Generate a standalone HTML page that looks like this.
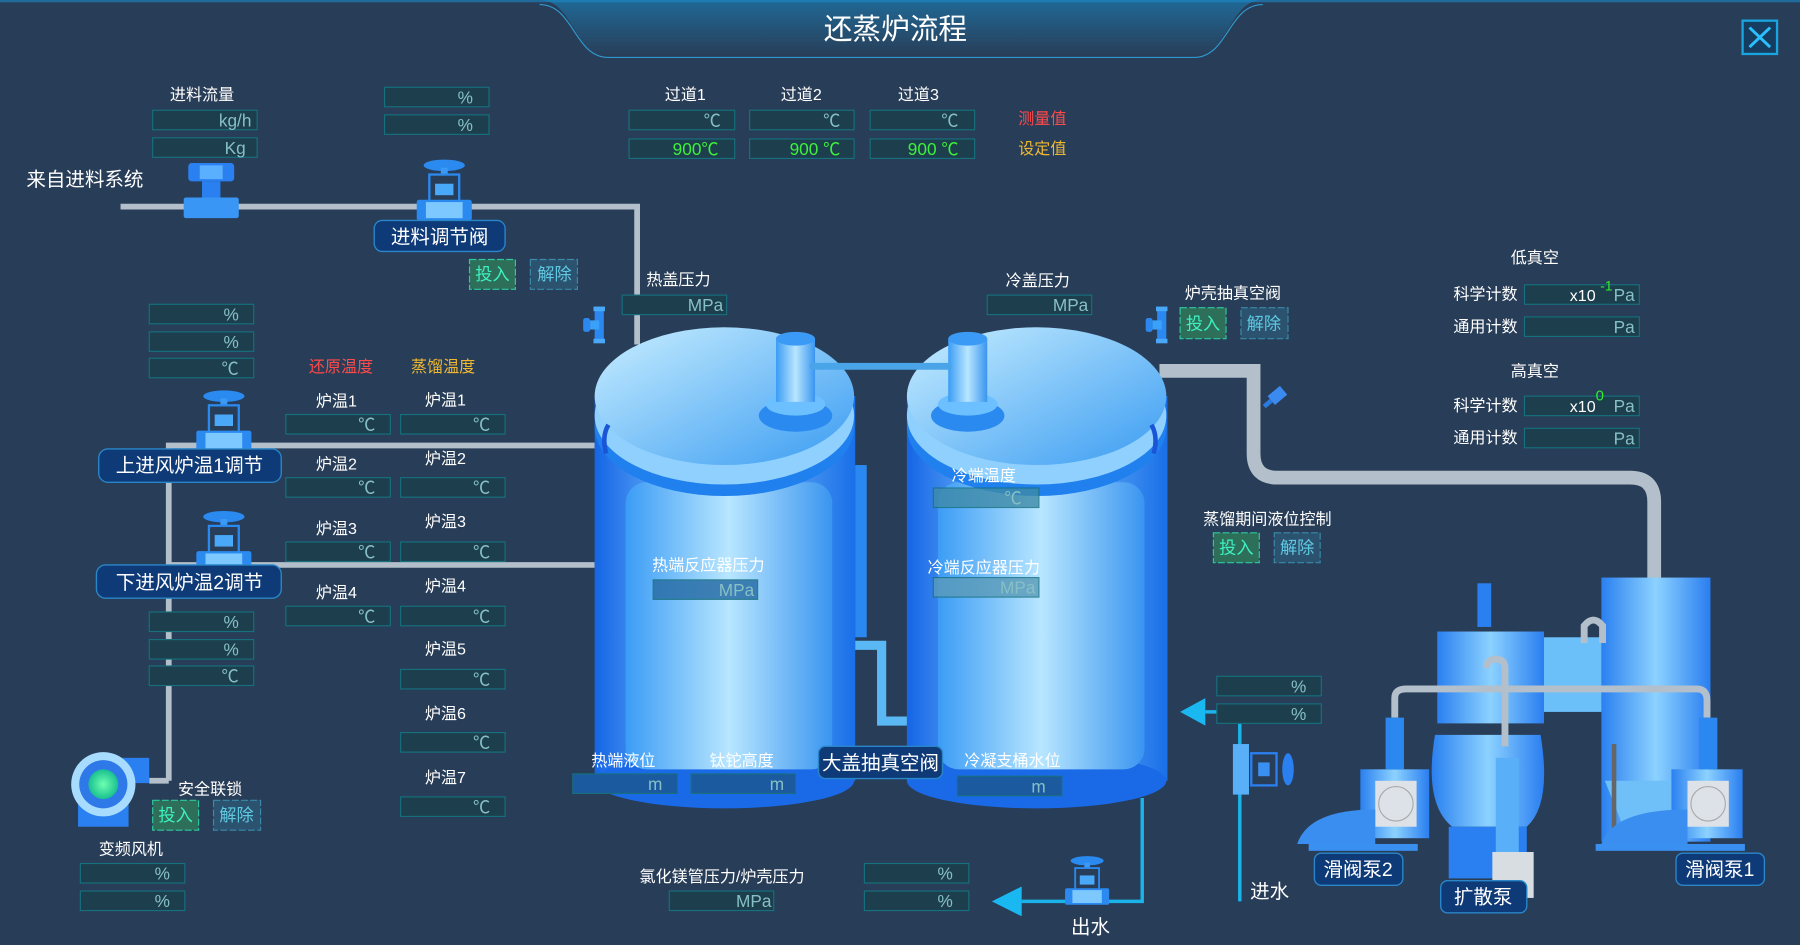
<!DOCTYPE html>
<html><head><meta charset="utf-8"><style>
html,body{margin:0;padding:0;background:#283d57;}
svg{display:block}
text{font-family:"Liberation Sans","Noto Sans CJK SC",sans-serif;}
.l{fill:#fff;font-size:14px;text-anchor:middle}
.u{fill:#86c0c4;font-size:15px;text-anchor:end}
.bx{fill:#1d3f4d;stroke:#16707e;stroke-width:1}
.g{fill:#2e6f5a;stroke:#2fc9a0;stroke-dasharray:6 2}
.r{fill:#2b5370;stroke:#3a8aa8;stroke-dasharray:6 2}
.gt{fill:#3ef0c0;font-size:15px;text-anchor:middle}
.rt{fill:#5fc8e0;font-size:15px;text-anchor:middle}
.tag{fill:#0e3a78;stroke:#2a86c8;stroke-width:1.2}
.tt{fill:#fff;font-size:17px;text-anchor:middle}
.pipe{stroke:#b3bfca;fill:none}
</style></head><body>
<svg width="1800" height="945" viewBox="0 0 1568 823" preserveAspectRatio="none">
<defs>
<linearGradient id="tk" x1="0" x2="1"><stop offset="0" stop-color="#1565e6"/><stop offset=".45" stop-color="#8fd4ff"/><stop offset="1" stop-color="#1a6fe8"/></linearGradient>
<linearGradient id="tk2" x1="0" x2="1"><stop offset="0" stop-color="#3b9cf5"/><stop offset=".5" stop-color="#b8e6ff"/><stop offset="1" stop-color="#3a95f0"/></linearGradient>
<linearGradient id="lid" x1="0" y1="0" x2="1" y2="1"><stop offset="0" stop-color="#c8eeff"/><stop offset="1" stop-color="#3a9cf2"/></linearGradient>
<linearGradient id="hd" x1="0" y1="0" x2="0" y2="1"><stop offset="0" stop-color="#1a86c0"/><stop offset="1" stop-color="#283d57"/></linearGradient>
<linearGradient id="mc" x1="0" x2="1"><stop offset="0" stop-color="#2a80f0"/><stop offset=".5" stop-color="#8cd2ff"/><stop offset="1" stop-color="#2a7ef0"/></linearGradient>
<radialGradient id="fan"><stop offset="0" stop-color="#6fffb0"/><stop offset="1" stop-color="#18c090"/></radialGradient>
<g id="valve"><ellipse cx="0" cy="-38" rx="18" ry="5" fill="#2a8af0"/><rect x="-3" y="-36" width="6" height="6" fill="#3a9af5"/><rect x="-13" y="-30" width="26" height="24" fill="none" stroke="#2a8af0" stroke-width="2"/><rect x="-8" y="-22" width="16" height="10" fill="#4aa8f8"/><rect x="-24" y="-8" width="48" height="18" rx="2" fill="#2a8af0"/><rect x="-16" y="-6" width="32" height="14" fill="#7cc8ff"/></g>
<g id="sv"><rect x="-4" y="-14" width="8" height="28" fill="#2a88f0"/><rect x="-8" y="-4" width="8" height="8" fill="#3aa0f8"/><rect x="-14" y="-6" width="6" height="12" rx="2" fill="#2a88f0"/><rect x="-5" y="-16" width="10" height="4" fill="#4aa8f8"/><rect x="-5" y="12" width="10" height="4" fill="#4aa8f8"/></g>
</defs>
<rect width="1568" height="823" fill="#283d57"/>
<!-- header -->
<path d="M470 0 C500 0 500 50 530 50 L1040 50 C1070 50 1070 0 1100 0 Z" fill="url(#hd)" opacity=".6"/>
<path d="M470 4 C500 4 500 50 530 50 L1040 50 C1070 50 1070 4 1100 4" fill="none" stroke="#2f9ad0" stroke-width="1"/>
<rect x="0" y="0" width="1568" height="2" fill="#1a8ac8" opacity=".6"/>
<text x="780" y="34" fill="#fff" font-size="25" text-anchor="middle">还蒸炉流程</text>
<rect x="1518" y="18" width="30" height="29" fill="#163d60" stroke="#1aa4e0" stroke-width="2"/>
<path d="M1524 24 L1542 41 M1542 24 L1524 41" stroke="#2ac0ff" stroke-width="2.5"/>

<!-- pipes -->
<path class="pipe" stroke-width="5" d="M105 180 L555 180 L555 300"/>
<path class="pipe" stroke-width="5" d="M147 680 L147 388 L518 388 M147 492 L518 492 M130 680 L147 680"/>
<path class="pipe" stroke-width="12" d="M1010 323 L1092 323 L1092 395 Q1092 416 1113 416 L1420 416 Q1441 416 1441 437 L1441 505"/>

<!-- feed devices -->
<g transform="translate(184,170)"><rect x="-20" y="-28" width="40" height="16" rx="3" fill="#2a80f0"/><rect x="-10" y="-26" width="20" height="12" fill="#5ab0ff"/><rect x="-8" y="-12" width="16" height="14" fill="#2a80f0"/><rect x="-24" y="2" width="48" height="18" rx="2" fill="#3a96f5"/></g>
<use href="#valve" transform="translate(387,182)"/>
<use href="#valve" transform="translate(195,383)"/>
<use href="#valve" transform="translate(195,488)"/>
<use href="#sv" transform="translate(522,283)"/>
<use href="#sv" transform="translate(1012,283)"/>

<!-- tanks -->
<g>
<rect x="518" y="345" width="227" height="335" fill="url(#tk)"/>
<ellipse cx="631" cy="680" rx="113" ry="24" fill="#1a6ae8"/>
<rect x="545" y="420" width="180" height="250" rx="18" fill="url(#tk2)"/>
<rect x="745" y="405" width="10" height="150" fill="#2a88f0"/>
<ellipse cx="631" cy="372" rx="113" ry="60" fill="#1f80ee"/>
<ellipse cx="631" cy="362" rx="113" ry="60" fill="#8fd0ff"/>
<ellipse cx="631" cy="345" rx="113" ry="60" fill="url(#lid)"/>
<ellipse cx="693" cy="362" rx="32" ry="14" fill="#2a8af0"/>
<ellipse cx="693" cy="352" rx="26" ry="10" fill="#6cc0ff"/>
<rect x="676" y="295" width="34" height="55" fill="url(#tk2)"/>
<ellipse cx="693" cy="295" rx="17" ry="6" fill="#3a9af5"/>
<path d="M530 370 Q524 380 528 395" stroke="#1a55d8" stroke-width="4" fill="none"/>
</g>
<g>
<rect x="790" y="345" width="227" height="335" fill="url(#tk)"/>
<ellipse cx="903" cy="680" rx="113" ry="24" fill="#1a6ae8"/>
<rect x="817" y="420" width="180" height="250" rx="18" fill="url(#tk2)"/>
<ellipse cx="903" cy="372" rx="113" ry="60" fill="#1f80ee"/>
<ellipse cx="903" cy="362" rx="113" ry="60" fill="#8fd0ff"/>
<ellipse cx="903" cy="345" rx="113" ry="60" fill="url(#lid)"/>
<ellipse cx="843" cy="362" rx="32" ry="14" fill="#2a8af0"/>
<ellipse cx="843" cy="352" rx="26" ry="10" fill="#6cc0ff"/>
<rect x="826" y="295" width="34" height="55" fill="url(#tk2)"/>
<ellipse cx="843" cy="295" rx="17" ry="6" fill="#3a9af5"/>
<path d="M1003 370 Q1009 380 1005 395" stroke="#1a55d8" stroke-width="4" fill="none"/>
</g>
<path d="M708 319 L826 319" stroke="#4aa4e8" stroke-width="6" stroke-linecap="round"/>
<path d="M745 562 L768 562 L768 628 L790 628" stroke="#5ab8f5" stroke-width="8" fill="none"/>

<!-- machinery -->
<rect x="1395" y="503" width="95" height="230" fill="url(#mc)"/>
<path d="M1398 680 L1490 680 L1460 735 L1420 735 Z" fill="#6fbff8"/>
<rect x="1252" y="550" width="93" height="80" fill="url(#mc)"/>
<rect x="1345" y="555" width="50" height="65" fill="#6bc0fa"/>
<path d="M1250 640 Q1240 700 1265 720 L1330 720 Q1352 700 1342 640 Z" fill="url(#mc)"/>
<rect x="1262" y="720" width="68" height="45" fill="#2a80f0"/>
<rect x="1303" y="660" width="20" height="90" fill="#5ab0f8"/>
<rect x="1300" y="742" width="36" height="40" fill="#d8dde2"/>
<path class="pipe" stroke-width="6" d="M1215 625 L1215 608 Q1215 600 1225 600 L1478 600 Q1487 600 1487 610 L1487 625 M1311 650 L1311 582 Q1311 574 1303 574 Q1295 574 1295 582"/>
<path class="pipe" stroke-width="6" d="M1380 560 L1380 545 Q1388 535 1396 545 L1396 560"/>
<rect x="1404" y="648" width="4" height="82" fill="#666"/>
<rect x="1287" y="508" width="12" height="38" fill="#2a80f0"/>
<g><rect x="1185" y="670" width="60" height="60" fill="url(#mc)"/><rect x="1198" y="680" width="36" height="40" fill="#dde2e8"/><circle cx="1216" cy="700" r="15" fill="none" stroke="#aaa"/><path d="M1130 735 Q1140 705 1198 705 L1198 735 Z" fill="#3a8ef0"/><rect x="1140" y="735" width="95" height="6" fill="#3a90f0"/><rect x="1207" y="625" width="16" height="45" fill="#2a88f0"/></g>
<g><rect x="1456" y="670" width="62" height="60" fill="url(#mc)"/><rect x="1470" y="680" width="36" height="40" fill="#dde2e8"/><circle cx="1488" cy="700" r="15" fill="none" stroke="#aaa"/><path d="M1395 735 Q1405 705 1470 705 L1470 735 Z" fill="#3a8ef0"/><rect x="1390" y="735" width="130" height="6" fill="#3a90f0"/><rect x="1480" y="625" width="16" height="45" fill="#2a88f0"/></g>
<g transform="translate(1112,345) rotate(-40)"><rect x="-6" y="-5" width="14" height="10" fill="#3a8af0"/><rect x="-14" y="-2" width="8" height="4" fill="#2a7ae0"/></g>

<!-- water -->
<path d="M1080 785 L1080 620 L1050 620" stroke="#1ab4ea" stroke-width="3" fill="none"/>
<path d="M1028 620 L1050 608 L1050 632 Z" fill="#1ab8f0"/>
<g transform="translate(1082,670)"><rect x="-8" y="-22" width="14" height="44" fill="#5ab0f8"/><rect x="8" y="-14" width="22" height="28" fill="none" stroke="#2a80f0" stroke-width="2"/><rect x="14" y="-6" width="10" height="12" fill="#3a90f0"/><ellipse cx="40" cy="0" rx="5" ry="14" fill="#2a80f0"/></g>
<path d="M995 695 L995 785 L890 785" stroke="#1ab4ea" stroke-width="3" fill="none"/>
<path d="M864 785 L890 772 L890 798 Z" fill="#1ab8f0"/>
<use href="#valve" transform="translate(947,780) scale(.8)"/>

<!-- fan -->
<rect x="80" y="660" width="50" height="22" fill="#2a80f0"/>
<rect x="68" y="690" width="44" height="30" fill="#2a80f0"/>
<circle cx="90" cy="683" r="28" fill="#a8dcff"/><circle cx="90" cy="683" r="21" fill="#2f78e8"/><circle cx="90" cy="683" r="13" fill="url(#fan)"/>

<!-- text labels -->
<text class="l" x="176" y="87">进料流量</text>
<rect class="bx" x="133" y="96" width="91" height="17"/><text class="u" x="219" y="110">kg/h</text>
<rect class="bx" x="133" y="120" width="91" height="17"/><text class="u" x="214" y="134">Kg</text>
<rect class="bx" x="335" y="76" width="91" height="17"/><text class="u" x="412" y="90">%</text>
<rect class="bx" x="335" y="100" width="91" height="17"/><text class="u" x="412" y="114">%</text>
<text x="23" y="162" fill="#fff" font-size="17">来自进料系统</text>
<rect class="tag" x="326" y="192" width="114" height="27" rx="7"/><text class="tt" x="383" y="212">进料调节阀</text>
<rect class="g" x="409" y="226" width="40" height="26"/><text class="gt" x="429" y="244">投入</text>
<rect class="r" x="462" y="226" width="41" height="26"/><text class="rt" x="483" y="244">解除</text>

<text class="l" x="597" y="87">过道1</text><text class="l" x="698" y="87">过道2</text><text class="l" x="800" y="87">过道3</text>
<rect class="bx" x="548" y="96" width="92" height="17"/><text class="u" x="628" y="110">℃</text>
<rect class="bx" x="653" y="96" width="91" height="17"/><text class="u" x="732" y="110">℃</text>
<rect class="bx" x="758" y="96" width="91" height="17"/><text class="u" x="835" y="110">℃</text>
<rect class="bx" x="548" y="121" width="92" height="17"/><text class="u" x="626" y="135" style="fill:#3cf03c">900℃</text>
<rect class="bx" x="653" y="121" width="91" height="17"/><text class="u" x="732" y="135" style="fill:#3cf03c">900 ℃</text>
<rect class="bx" x="758" y="121" width="91" height="17"/><text class="u" x="835" y="135" style="fill:#3cf03c">900 ℃</text>
<text x="908" y="108" fill="#ff4a4a" font-size="14" text-anchor="middle">测量值</text>
<text x="908" y="134" fill="#f0b830" font-size="14" text-anchor="middle">设定值</text>

<text class="l" x="591" y="248">热盖压力</text><rect class="bx" x="542" y="257" width="91" height="17"/><text class="u" x="630" y="271">MPa</text>
<text class="l" x="904" y="249">冷盖压力</text><rect class="bx" x="860" y="257" width="91" height="17"/><text class="u" x="948" y="271">MPa</text>
<text class="l" x="1074" y="260">炉壳抽真空阀</text>
<rect class="g" x="1028" y="268" width="40" height="27"/><text class="gt" x="1048" y="287">投入</text>
<rect class="r" x="1081" y="268" width="41" height="27"/><text class="rt" x="1101" y="287">解除</text>

<text class="l" x="1337" y="229">低真空</text>
<text class="l" x="1294" y="261">科学计数</text><rect class="bx" x="1328" y="248" width="100" height="17"/><text x="1390" y="262" fill="#fff" font-size="14" text-anchor="end">x10</text><text x="1394" y="253" fill="#2ef02e" font-size="12">-1</text><text class="u" x="1424" y="262">Pa</text>
<text class="l" x="1294" y="289">通用计数</text><rect class="bx" x="1328" y="276" width="100" height="17"/><text class="u" x="1424" y="290">Pa</text>
<text class="l" x="1337" y="328">高真空</text>
<text class="l" x="1294" y="358">科学计数</text><rect class="bx" x="1328" y="345" width="100" height="17"/><text x="1390" y="359" fill="#fff" font-size="14" text-anchor="end">x10</text><text x="1390" y="349" fill="#2ef02e" font-size="13">0</text><text class="u" x="1424" y="359">Pa</text>
<text class="l" x="1294" y="386">通用计数</text><rect class="bx" x="1328" y="373" width="100" height="17"/><text class="u" x="1424" y="387">Pa</text>

<rect class="bx" x="130" y="265" width="91" height="17"/><text class="u" x="208" y="279">%</text>
<rect class="bx" x="130" y="289" width="91" height="17"/><text class="u" x="208" y="303">%</text>
<rect class="bx" x="130" y="312" width="91" height="17"/><text class="u" x="208" y="326">℃</text>
<text x="297" y="324" fill="#ff4a4a" font-size="14" text-anchor="middle">还原温度</text>
<text x="386" y="324" fill="#f0b830" font-size="14" text-anchor="middle">蒸馏温度</text>
<text class="l" x="293" y="354">炉温1</text><rect class="bx" x="249" y="361" width="91" height="17"/><text class="u" x="327" y="375">℃</text>
<text class="l" x="388" y="353">炉温1</text><rect class="bx" x="349" y="361" width="91" height="17"/><text class="u" x="427" y="375">℃</text>
<text class="l" x="293" y="409">炉温2</text><rect class="bx" x="249" y="416" width="91" height="17"/><text class="u" x="327" y="430">℃</text>
<text class="l" x="388" y="404">炉温2</text><rect class="bx" x="349" y="416" width="91" height="17"/><text class="u" x="427" y="430">℃</text>
<text class="l" x="293" y="465">炉温3</text><rect class="bx" x="249" y="472" width="91" height="17"/><text class="u" x="327" y="486">℃</text>
<text class="l" x="388" y="459">炉温3</text><rect class="bx" x="349" y="472" width="91" height="17"/><text class="u" x="427" y="486">℃</text>
<text class="l" x="293" y="521">炉温4</text><rect class="bx" x="249" y="528" width="91" height="17"/><text class="u" x="327" y="542">℃</text>
<text class="l" x="388" y="515">炉温4</text><rect class="bx" x="349" y="528" width="91" height="17"/><text class="u" x="427" y="542">℃</text>
<text class="l" x="388" y="570">炉温5</text><rect class="bx" x="349" y="583" width="91" height="17"/><text class="u" x="427" y="597">℃</text>
<text class="l" x="388" y="626">炉温6</text><rect class="bx" x="349" y="638" width="91" height="17"/><text class="u" x="427" y="652">℃</text>
<text class="l" x="388" y="682">炉温7</text><rect class="bx" x="349" y="694" width="91" height="17"/><text class="u" x="427" y="708">℃</text>
<rect class="tag" x="86" y="391" width="159" height="29" rx="8"/><text class="tt" x="165" y="411">上进风炉温1调节</text>
<rect class="tag" x="84" y="492" width="161" height="29" rx="8"/><text class="tt" x="165" y="513">下进风炉温2调节</text>
<rect class="bx" x="130" y="533" width="91" height="17"/><text class="u" x="208" y="547">%</text>
<rect class="bx" x="130" y="557" width="91" height="17"/><text class="u" x="208" y="571">%</text>
<rect class="bx" x="130" y="580" width="91" height="17"/><text class="u" x="208" y="594">℃</text>
<text class="l" x="183" y="692">安全联锁</text>
<rect class="g" x="133" y="697" width="40" height="26"/><text class="gt" x="153" y="715">投入</text>
<rect class="r" x="186" y="697" width="41" height="26"/><text class="rt" x="206" y="715">解除</text>
<text class="l" x="114" y="744">变频风机</text>
<rect class="bx" x="70" y="752" width="91" height="17"/><text class="u" x="148" y="766">%</text>
<rect class="bx" x="70" y="776" width="91" height="17"/><text class="u" x="148" y="790">%</text>

<text class="l" x="857" y="419">冷端温度</text><rect class="bx" x="813" y="425" width="92" height="17" style="fill:#3f8aa8;opacity:.8"/><text class="u" x="890" y="439">℃</text>
<text class="l" x="617" y="497">热端反应器压力</text><rect class="bx" x="569" y="505" width="91" height="17" style="fill:#2a6fa8;opacity:.85"/><text class="u" x="657" y="519">MPa</text>
<text class="l" x="857" y="499">冷端反应器压力</text><rect class="bx" x="813" y="503" width="92" height="17" style="fill:#5a9ab8;opacity:.8"/><text class="u" x="902" y="517">MPa</text>
<text class="l" x="543" y="667">热端液位</text><rect class="bx" x="499" y="674" width="91" height="17" style="fill:#1c5aa0"/><text class="u" x="577" y="688">m</text>
<text class="l" x="646" y="667">钛铊高度</text><rect class="bx" x="602" y="674" width="91" height="17" style="fill:#1c5aa0"/><text class="u" x="683" y="688">m</text>
<rect class="tag" x="713" y="650" width="108" height="28" rx="6"/><text class="tt" x="767" y="670">大盖抽真空阀</text>
<text class="l" x="882" y="667">冷凝支桶水位</text><rect class="bx" x="834" y="676" width="91" height="17" style="fill:#1c5aa0"/><text class="u" x="911" y="690">m</text>

<text class="l" x="1104" y="457">蒸馏期间液位控制</text>
<rect class="g" x="1057" y="464" width="40" height="26"/><text class="gt" x="1077" y="482">投入</text>
<rect class="r" x="1110" y="464" width="40" height="26"/><text class="rt" x="1130" y="482">解除</text>
<rect class="bx" x="1060" y="589" width="91" height="17"/><text class="u" x="1138" y="603">%</text>
<rect class="bx" x="1060" y="613" width="91" height="17"/><text class="u" x="1138" y="627">%</text>
<text x="1106" y="782" fill="#fff" font-size="17" text-anchor="middle">进水</text>
<text x="950" y="813" fill="#fff" font-size="17" text-anchor="middle">出水</text>
<text class="l" x="629" y="768">氯化镁管压力/炉壳压力</text><rect class="bx" x="583" y="776" width="91" height="17"/><text class="u" x="672" y="790">MPa</text>
<rect class="bx" x="753" y="752" width="91" height="17"/><text class="u" x="830" y="766">%</text>
<rect class="bx" x="753" y="776" width="91" height="17"/><text class="u" x="830" y="790">%</text>

<rect class="tag" x="1145" y="743" width="77" height="28" rx="6"/><text class="tt" x="1183" y="763">滑阀泵2</text>
<rect class="tag" x="1255" y="767" width="75" height="28" rx="6"/><text class="tt" x="1292" y="787">扩散泵</text>
<rect class="tag" x="1460" y="743" width="77" height="28" rx="6"/><text class="tt" x="1498" y="763">滑阀泵1</text>
</svg>
</body></html>
